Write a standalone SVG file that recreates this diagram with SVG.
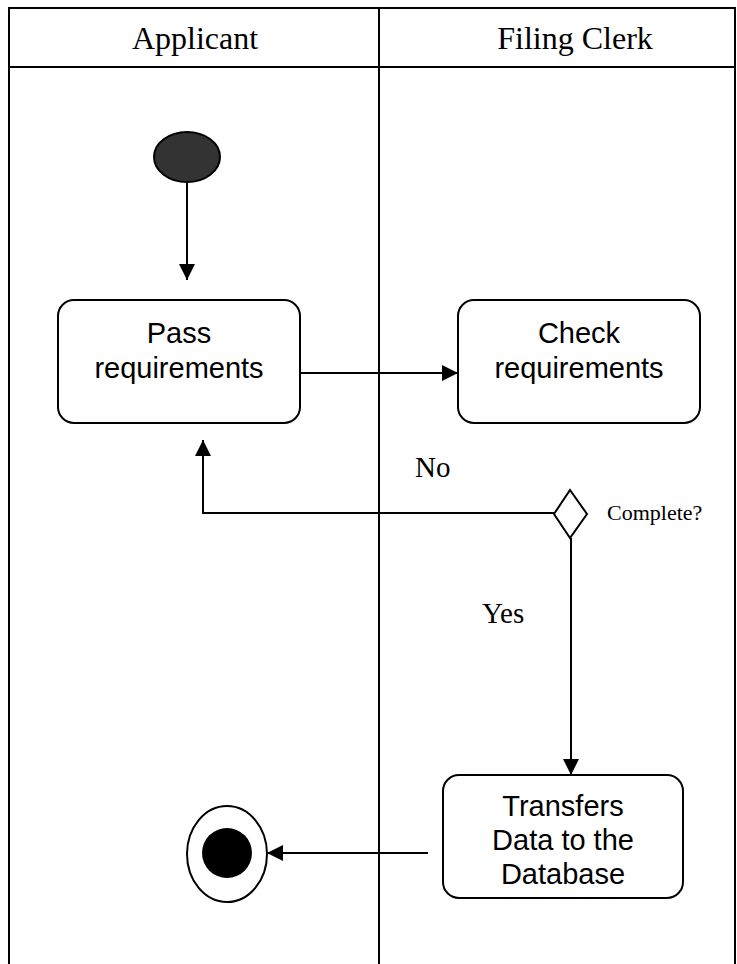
<svg xmlns="http://www.w3.org/2000/svg" width="737" height="964" viewBox="0 0 737 964">
  <style>
    .lane { fill: none; stroke: #000; stroke-width: 2; }
    .act { fill: #fff; stroke: #000; stroke-width: 2; }
    .edge { fill: none; stroke: #000; stroke-width: 2; }
    .serif { font-family: "Liberation Serif", "Times New Roman", serif; fill: #000; }
    .sans { font-family: "Liberation Sans", Arial, sans-serif; fill: #000; font-size: 29px; text-anchor: middle; }
  </style>
  <defs>
    <marker id="arrow" viewBox="0 0 16 16" refX="16" refY="8" markerWidth="16" markerHeight="16" markerUnits="userSpaceOnUse" orient="auto">
      <path d="M0,0 L16,8 L0,16 Z" fill="#000"/>
    </marker>
  </defs>
  <rect width="737" height="964" fill="#fff"/>

  <!-- swimlane frame -->
  <g id="lanes">
    <path class="lane" d="M9,964 V8 H735 V964"/>
    <line class="lane" x1="9" y1="67" x2="735" y2="67"/>
    <line class="lane" x1="379" y1="8" x2="379" y2="964"/>
    <text class="serif" x="195" y="49" font-size="32" text-anchor="middle">Applicant</text>
    <text class="serif" x="575" y="49" font-size="32" text-anchor="middle">Filing Clerk</text>
  </g>

  <!-- connectors -->
  <g id="connectors">
    <line class="edge" x1="187" y1="183" x2="187" y2="280" marker-end="url(#arrow)"/>
    <line class="edge" x1="300" y1="373" x2="458" y2="373" marker-end="url(#arrow)"/>
    <polyline class="edge" points="554,513 203,513 203,440" marker-end="url(#arrow)"/>
    <line class="edge" x1="571" y1="538" x2="571" y2="775" marker-end="url(#arrow)"/>
    <line class="edge" x1="428" y1="853" x2="267" y2="853" marker-end="url(#arrow)"/>
    <text class="serif" x="415" y="477" font-size="29">No</text>
    <text class="serif" x="482" y="623" font-size="29">Yes</text>
  </g>

  <g id="start">
    <ellipse cx="187" cy="157" rx="33" ry="25" fill="#333" stroke="#000" stroke-width="2"/>
  </g>

  <g id="pass-requirements">
    <rect class="act" x="58" y="300" width="242" height="123" rx="16"/>
    <text class="sans" x="179" y="343">Pass</text>
    <text class="sans" x="179" y="378">requirements</text>
  </g>

  <g id="check-requirements">
    <rect class="act" x="458" y="300" width="242" height="123" rx="16"/>
    <text class="sans" x="579" y="343">Check</text>
    <text class="sans" x="579" y="378">requirements</text>
  </g>

  <g id="complete-decision">
    <polygon points="570,490 587,514 570,538 554,514" fill="#fff" stroke="#000" stroke-width="2"/>
    <text class="serif" x="607" y="520" font-size="22">Complete?</text>
  </g>

  <g id="transfers-data">
    <rect class="act" x="443" y="775" width="240" height="123" rx="16"/>
    <text class="sans" x="563" y="816">Transfers</text>
    <text class="sans" x="563" y="850">Data to the</text>
    <text class="sans" x="563" y="884">Database</text>
  </g>

  <g id="end">
    <ellipse cx="227" cy="854" rx="40" ry="48" fill="#fff" stroke="#000" stroke-width="2"/>
    <circle cx="227" cy="853" r="25" fill="#000"/>
  </g>
</svg>
